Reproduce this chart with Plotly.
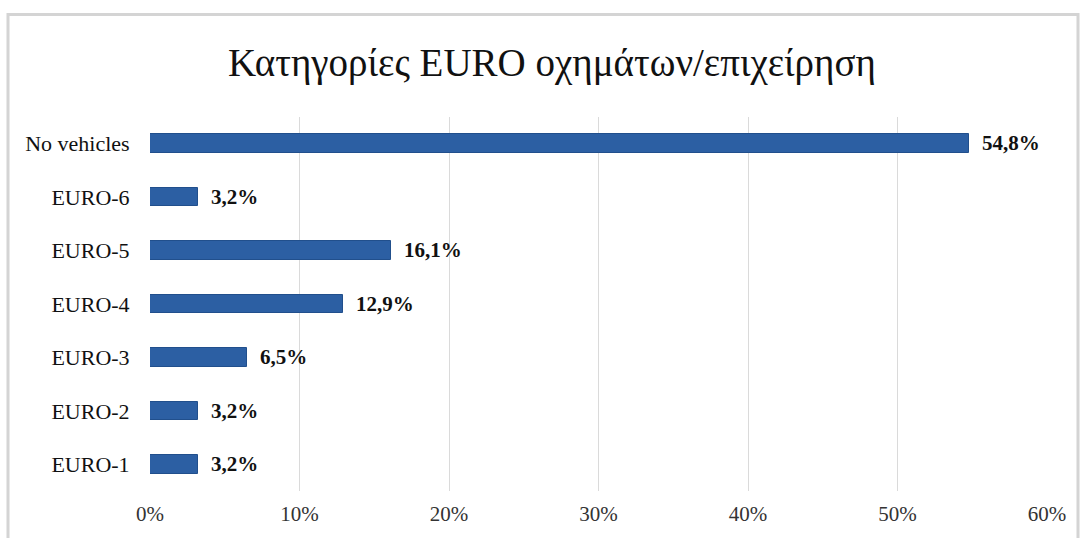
import plotly.graph_objects as go

# EURO emission category of vehicles per company (share of companies, %)
categories = ["EURO-1", "EURO-2", "EURO-3", "EURO-4", "EURO-5", "EURO-6", "No vehicles"]
shares = [3.2, 3.2, 6.5, 12.9, 16.1, 3.2, 54.8]
x_ticks = [0, 10, 20, 30, 40, 50, 60]

W, H = 1084, 538
L, R, T, B = 150, 37, 117, 38
pw, ph = W - L - R, H - T - B


def px_to_paper_x(px):
    return (px - L) / pw


def px_to_paper_y(py):
    return (H - B - py) / ph


fig = go.Figure(
    go.Bar(
        x=shares,
        y=categories,
        orientation="h",
        marker=dict(color="#2C5FA3", line=dict(color="#214F8C", width=1)),
        width=0.35,
        texttemplate="\u00a0\u00a0<b>%{x:.1f}%</b>",
        textposition="outside",
        constraintext="none",
        textfont=dict(family="Liberation Serif", size=21, color="#111111"),
        cliponaxis=False,
        hoverinfo="skip",
    )
)

fig.update_layout(
    width=W,
    height=H,
    margin=dict(l=L, r=R, t=T, b=B),
    paper_bgcolor="white",
    plot_bgcolor="white",
    separators=",.",
    showlegend=False,
    title=dict(
        text="Κατηγορίες EURO οχημάτων/επιχείρηση",
        xref="container",
        x=552 / W,
        xanchor="center",
        y=1 - 62 / H,
        yanchor="middle",
        font=dict(family="Liberation Serif", size=39, color="#111111"),
    ),
    font=dict(family="Liberation Serif"),
    bargap=0,
)

fig.update_xaxes(
    range=[0, 60],
    tickvals=x_ticks,
    ticktext=[f"{v}%" for v in x_ticks],
    showgrid=True,
    gridcolor="#DADADA",
    gridwidth=1,
    zeroline=False,
    showline=False,
    ticks="outside",
    ticklen=4,
    tickcolor="rgba(0,0,0,0)",
    tickfont=dict(family="Liberation Serif", size=21, color="#333333"),
    fixedrange=True,
)

fig.update_yaxes(
    categoryorder="array",
    categoryarray=categories,
    showgrid=False,
    zeroline=False,
    showline=False,
    ticks="outside",
    ticklen=15,
    tickcolor="rgba(0,0,0,0)",
    tickfont=dict(family="Liberation Serif", size=22, color="#111111"),
    fixedrange=True,
)

# Chart frame
fig.add_shape(
    type="rect",
    xref="paper",
    yref="paper",
    x0=px_to_paper_x(8),
    x1=px_to_paper_x(1078),
    y0=px_to_paper_y(560),
    y1=px_to_paper_y(12),
    line=dict(color="#D4D4D4", width=3),
    fillcolor="rgba(0,0,0,0)",
    layer="below",
)

fig.write_html("out.html")
